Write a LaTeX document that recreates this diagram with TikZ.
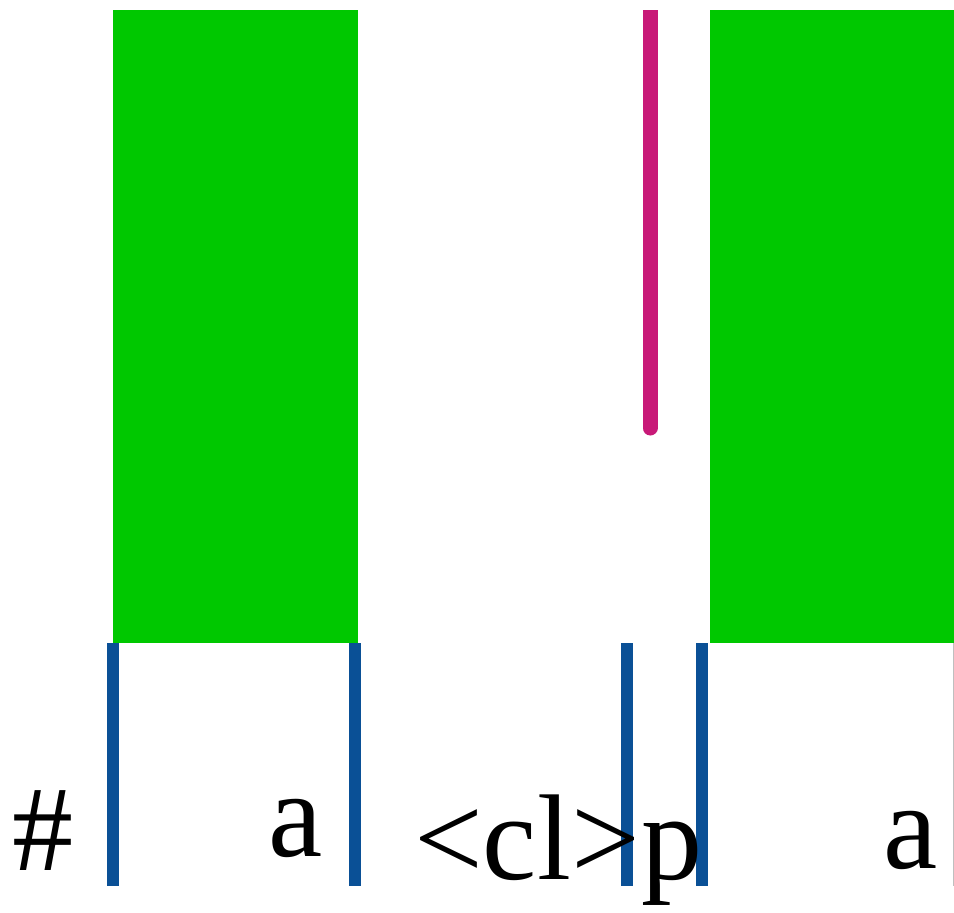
\documentclass[tikz,border=0pt]{standalone}
\usepackage{fontspec}
\setmainfont{Liberation Serif}
\definecolor{specgreen}{RGB}{0,200,0}
\definecolor{bndblue}{RGB}{10,80,150}
\definecolor{pitchmag}{RGB}{200,25,120}
\begin{document}
\begin{tikzpicture}[x=1pt,y=-1pt,
  seg/.style={fill=specgreen},
  bnd/.style={draw=bndblue,line width=12pt},
  lbl/.style={inner sep=0pt,anchor=base,font=\fontsize{122}{140}\selectfont}]
\useasboundingbox[fill=white] (0,0) rectangle (954,913);
\fill[seg] (113,10) rectangle (358,643);
\fill[seg] (710,10) rectangle (954,643);
\begin{scope}
  \clip (113,10) rectangle (954,643);
  \draw[pitchmag,line width=15pt,line cap=round] (650,0) -- (650,428);
\end{scope}
\draw[black!25,line width=1pt] (953.5,643) -- (953.5,886);
\coordinate (b1t) at (113,643); \coordinate (b1b) at (113,886);
\coordinate (b2t) at (355,643); \coordinate (b2b) at (355,886);
\coordinate (b3t) at (627,643); \coordinate (b3b) at (627,886);
\coordinate (b4t) at (702,643); \coordinate (b4b) at (702,886);
\draw[bnd] (b1t) -- (b1b);
\draw[bnd] (b2t) -- (b2b);
\draw[bnd] (b3t) -- (b3b);
\draw[bnd] (b4t) -- (b4b);
\node[lbl] (hash) at (43,870) {\#};
\node[lbl] (a1) at (296,856) {a};
\node[lbl] (cl) at (527,879) {<cl>};
\node[lbl] (p) at (672,879) {p};
\node[lbl] (a2) at (911,868) {a};
\end{tikzpicture}
\end{document}
